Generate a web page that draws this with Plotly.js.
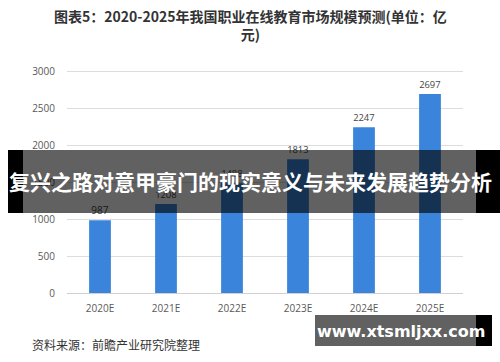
<!DOCTYPE html>
<html>
<head>
<meta charset="utf-8">
<script src="https://cdn.plot.ly/plotly-3.0.1.min.js"></script>
<style>
html,body{margin:0;padding:0;background:#fff;}
#chart{width:500px;height:362px;}
</style>
</head>
<body>
<div id="chart"></div>
<script>
const categories = ["2020E", "2021E", "2022E", "2023E", "2024E", "2025E"];
const values = [987, 1208, 1488, 1813, 2247, 2697];
const valueLabels = ["987", "1208", "1488", "1813", "2247", "2697"];
const yTicks = [0, 500, 1000, 1500, 2000, 2500, 3000];
const titleText = "图表5：2020-2025年我国职业在线教育市场规模预测(单位：亿<br>元)";
const sourceText = "资料来源：前瞻产业研究院整理";
const bannerText = "复兴之路对意甲豪门的现实意义与未来发展趋势分析";
const siteText = "www.xtsmljxx.com";

// plot area in pixels: x 67..463, y 62..293
const L = 67, R = 463, T = 62, B = 293;
const px = x => (x - L) / (R - L);
const py = y => (B - y) / (B - T);

const trace = {
  type: "bar",
  x: categories,
  y: values,
  text: valueLabels,
  textposition: "outside",
  cliponaxis: false,
  textfont: {family: "Open Sans, sans-serif", size: 10, color: "#444"},
  marker: {color: "#3b84db"},
  hoverinfo: "x+y"
};

const layout = {
  width: 500, height: 362,
  margin: {l: L, r: 500 - R, t: T, b: 362 - B, pad: 0},
  paper_bgcolor: "#fff",
  plot_bgcolor: "#fff",
  bargap: 0.67,
  showlegend: false,
  xaxis: {
    type: "category",
    showgrid: false, zeroline: false, showline: false,
    ticks: "outside", ticklen: 6, tickcolor: "rgba(0,0,0,0)",
    tickfont: {family: "Open Sans, sans-serif", size: 10, color: "#595959"}
  },
  yaxis: {
    range: [0, 3131],
    tickvals: yTicks,
    showgrid: true, gridcolor: "#dcdcdc", gridwidth: 1,
    zeroline: true, zerolinecolor: "#d0d0d0",
    showline: false,
    ticks: "outside", ticklen: 9, tickcolor: "rgba(0,0,0,0)",
    tickfont: {family: "Open Sans, sans-serif", size: 10, color: "#595959"}
  },
  shapes: [
    {type: "rect", xref: "paper", yref: "paper", x0: px(8), x1: px(500), y0: py(213), y1: py(150),
     fillcolor: "rgba(0,0,0,0.62)", line: {width: 0}, layer: "above"},
    {type: "rect", xref: "paper", yref: "paper", x0: px(8), x1: px(23), y0: py(213), y1: py(150),
     fillcolor: "#000", line: {width: 0}, layer: "above"},
    {type: "rect", xref: "paper", yref: "paper", x0: px(476), x1: px(500), y0: py(213), y1: py(150),
     fillcolor: "#000", line: {width: 0}, layer: "above"},
    {type: "rect", xref: "paper", yref: "paper", x0: px(315), x1: px(492), y0: py(346), y1: py(315),
     fillcolor: "rgba(0,0,0,0.62)", line: {width: 0}, layer: "above"},
    {type: "rect", xref: "paper", yref: "paper", x0: px(476), x1: px(492), y0: py(346), y1: py(315),
     fillcolor: "#000", line: {width: 0}, layer: "above"}
  ],
  annotations: [
    {text: titleText, xref: "paper", yref: "paper", x: px(250), y: py(25),
     xanchor: "center", yanchor: "middle", showarrow: false, align: "center",
     font: {family: "Noto Sans CJK SC, sans-serif", size: 14, color: "#333", weight: "bold"}},
    {text: sourceText, xref: "paper", yref: "paper", x: px(30), y: py(344),
     xanchor: "left", yanchor: "middle", showarrow: false,
     font: {family: "Noto Sans CJK SC, sans-serif", size: 12, color: "#333"}},
    {text: bannerText, xref: "paper", yref: "paper", x: px(250), y: py(181),
     xanchor: "center", yanchor: "middle", showarrow: false,
     font: {family: "Noto Sans CJK SC, sans-serif", size: 21, color: "#fff", weight: "bold"}},
    {text: siteText, xref: "paper", yref: "paper", x: px(401), y: py(331),
     xanchor: "center", yanchor: "middle", showarrow: false,
     font: {family: "DejaVu Sans, sans-serif", size: 16, color: "#fff", weight: "bold"}}
  ]
};

Plotly.newPlot("chart", [trace], layout, {displayModeBar: false, staticPlot: true});
</script>
</body>
</html>
